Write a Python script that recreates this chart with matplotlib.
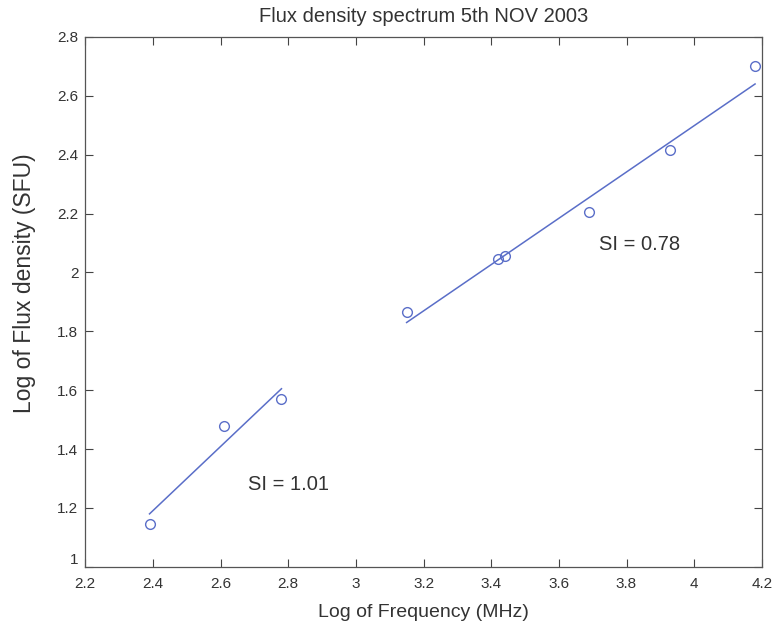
import matplotlib
matplotlib.use("Agg")
import matplotlib.pyplot as plt
import numpy as np

# data
log_freq = [2.39, 2.61, 2.78, 3.15, 3.42, 3.44, 3.69, 3.93, 4.18]
log_flux = [1.145, 1.48, 1.57, 1.865, 2.045, 2.055, 2.205, 2.415, 2.70]

fit1_x = [2.39, 2.78]
fit1_y = [1.18, 1.605]
fit2_x = [3.15, 4.18]
fit2_y = [1.83, 2.64]

x_ticks = [2.2, 2.4, 2.6, 2.8, 3, 3.2, 3.4, 3.6, 3.8, 4, 4.2]
x_ticklabels = ["2.2", "2.4", "2.6", "2.8", "3", "3.2", "3.4", "3.6", "3.8", "4", "4.2"]
y_ticks = [1, 1.2, 1.4, 1.6, 1.8, 2, 2.2, 2.4, 2.6, 2.8]
y_ticklabels = ["1", "1.2", "1.4", "1.6", "1.8", "2", "2.2", "2.4", "2.6", "2.8"]

plt.rcParams["font.family"] = ["Liberation Sans", "DejaVu Sans"]

blue = "#5a6ec8"
text_col = "#333333"

fig = plt.figure(figsize=(7.75, 6.25), dpi=100)
ax = fig.add_axes([0.110, 0.093, 0.873, 0.848])

ax.plot(log_freq, log_flux, linestyle="none", marker="o", markersize=7,
        markerfacecolor="none", markeredgecolor=blue, markeredgewidth=1.0)
ax.plot(fit1_x, fit1_y, color=blue, linewidth=1.1)
ax.plot(fit2_x, fit2_y, color=blue, linewidth=1.1)

ax.text(2.68, 1.28, "SI = 1.01", fontsize=14.5, color=text_col, ha="left", va="center")
ax.text(3.72, 2.095, "SI = 0.78", fontsize=14.5, color=text_col, ha="left", va="center")

ax.set_xlim(2.2, 4.2)
ax.set_ylim(1, 2.8)
ax.set_xticks(x_ticks)
ax.set_xticklabels(x_ticklabels)
ax.set_yticks(y_ticks)
ax.set_yticklabels(y_ticklabels)
ax.tick_params(direction="in", top=True, right=True, length=6, width=0.8,
               labelsize=11, colors="#444444", labelcolor="#333333")
ax.tick_params(axis="x", pad=7)
ax.tick_params(axis="y", pad=5)
# lift the "1" label a little so it does not sit on the "2.2" label
ax.get_yticklabels()[0].set_va("bottom")

for s in ax.spines.values():
    s.set_color("#555555")
    s.set_linewidth(0.9)

ax.set_title("Flux density spectrum 5th NOV 2003", fontsize=14.5, color=text_col, pad=11)
ax.set_xlabel("Log of Frequency (MHz)", fontsize=14, color=text_col, labelpad=10)
ax.set_ylabel("Log of Flux density (SFU)", fontsize=16.5, color=text_col)
ax.yaxis.set_label_coords(-0.073, 0.535)

fig.savefig("out.png", dpi=100)
